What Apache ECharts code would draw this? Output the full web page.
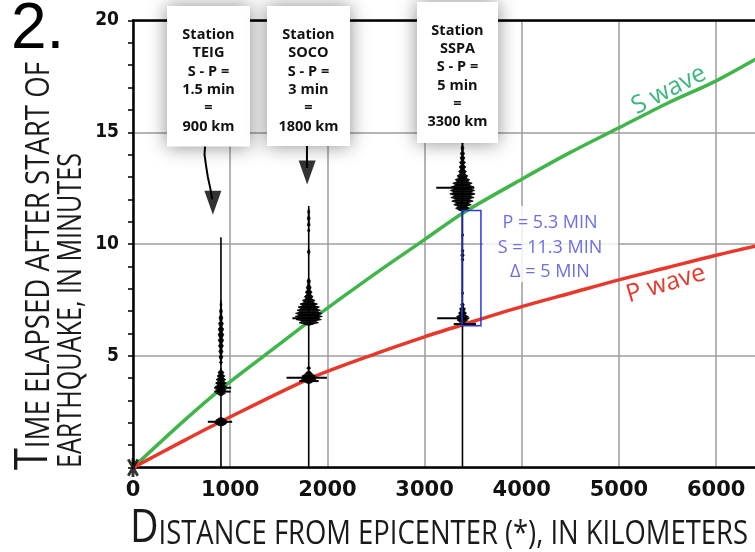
<!DOCTYPE html>
<html><head><meta charset="utf-8">
<script src="https://cdn.jsdelivr.net/npm/echarts@6/dist/echarts.min.js"></script>
<style>html,body{margin:0;padding:0;background:#fff}#c{width:755px;height:552px}</style>
</head><body><div id="c"></div>
<script>
// ---------- data ----------
const xTicks = [0, 1000, 2000, 3000, 4000, 5000, 6000];
const yTicks = [5, 10, 15, 20];
const sWaveKm  = [0, 500, 900, 1500, 1800, 2500, 3000, 3400, 4000, 4500, 5000, 5500, 6000, 6500];
const sWaveMin = [0, 2.0, 3.5, 5.5, 6.5, 8.7, 10.2, 11.4, 12.9, 14.1, 15.2, 16.3, 17.3, 18.5];
const pWaveKm  = [0, 500, 900, 1800, 2500, 3000, 3400, 4000, 4500, 5000, 5500, 6000, 6500];
const pWaveMin = [0, 1.15, 2.05, 3.95, 5.1, 5.85, 6.4, 7.2, 7.8, 8.4, 8.95, 9.5, 10.0];
const stations = ['TEIG', 'SOCO', 'SSPA'];
const stationKm = [905, 1808, 3390];
const traceTopMin = [10.3, 11.7, 14.6];
const spMinutes = ['1.5 min', '3 min', '5 min'];
const spDistance = ['900 km', '1800 km', '3300 km'];
// seismogram envelopes: [minutes, half-width km]
const teigWiggle = [[1.85,0],[1.9,30],[1.95,50],[2.0,60],[2.05,62],[2.1,55],[2.15,45],[2.2,28],[2.25,0],
  [3.2,0],[3.25,20],[3.32,45],[3.4,25],[3.48,55],[3.55,30],[3.62,60],[3.7,35],[3.78,55],[3.86,30],[3.94,50],[4.02,25],[4.1,40],[4.18,20],[4.26,30],[4.35,10],[4.45,0],
  [4.6,0],[4.7,15],[4.8,5],[4.95,20],[5.05,8],[5.2,22],[5.3,10],[5.45,25],[5.55,12],[5.7,28],[5.8,14],[5.95,30],[6.05,15],[6.2,28],[6.3,12],[6.45,25],[6.55,10],[6.7,20],[6.85,8],[7.0,15],[7.15,5],[7.3,10],[7.5,0]];
const socoWiggle = [[3.75,0],[3.8,30],[3.88,55],[3.95,75],[4.03,60],[4.1,70],[4.18,40],[4.26,25],[4.35,0],[4.45,20],[4.55,0],
  [6.35,0],[6.42,50],[6.48,100],[6.55,70],[6.62,130],[6.69,90],[6.76,140],[6.83,100],[6.9,135],[6.97,90],[7.04,120],[7.11,80],[7.18,110],[7.25,60],[7.32,90],[7.4,45],[7.48,65],[7.56,30],[7.65,45],[7.75,20],[7.85,35],[7.95,15],[8.05,25],[8.2,10],[8.35,18],[8.5,0],
  [9.5,0],[9.65,15],[9.8,0],[10.5,0],[10.6,12],[10.75,0],[10.85,15],[11.0,5],[11.15,15],[11.3,5],[11.45,12],[11.6,0]];
const sspaWiggle = [[6.45,0],[6.52,35],[6.6,55],[6.68,40],[6.76,60],[6.84,30],[6.92,40],[7.0,20],[7.1,30],[7.2,10],[7.3,18],[7.4,0],
  [7.7,0],[7.8,12],[7.9,0],[9.2,0],[9.3,15],[9.4,5],[9.5,18],[9.6,5],[9.7,15],[9.8,0],[10.3,0],[10.4,12],[10.5,0],
  [11.45,0],[11.52,40],[11.6,70],[11.68,45],[11.76,90],[11.84,60],[11.92,110],[12.0,70],[12.08,120],[12.16,80],[12.24,130],[12.32,90],[12.4,125],[12.48,85],[12.56,115],[12.64,70],[12.72,100],[12.8,55],[12.88,75],[12.96,40],[13.05,55],[13.15,25],[13.25,40],[13.35,18],[13.45,35],[13.55,15],[13.65,30],[13.75,12],[13.85,25],[13.95,10],[14.05,22],[14.15,8],[14.3,15],[14.45,5],[14.6,10]];
// arrival tick bars
const barMin  = [2.05, 3.57, 3.40, 4.02, 3.87, 6.68, 6.68, 6.42, 12.52];
const barFrom = [770, 836, 836, 1580, 1710, 1640, 3130, 3300, 3120];
const barTo   = [1020, 1010, 1005, 1995, 1910, 1920, 3460, 3530, 3512];
// arrows from labels
const teigArrowKm  = [743, 736, 752, 770, 795, 815];
const teigArrowMin = [14.5, 14.0, 13.5, 13.0, 12.5, 12.0];
const socoArrowKm  = [1790, 1790];
const socoArrowMin = [14.4, 13.4];
const arrowHeadKm  = [822, 1792];
const arrowHeadMin = [11.85, 13.2];
// blue bracket box
const boxKm  = [3385, 3580];
const boxMin = [6.35, 11.5];
const annotation = ['P = 5.3 MIN', 'S = 11.3 MIN', '\u0394 = 5 MIN'];
const originPoint = [[0, 0]];

// ---------- helpers ----------
const mctx = document.createElement('canvas').getContext('2d');
function measure(text, size, family, weight) {
  mctx.font = (weight || 'normal') + ' ' + size + 'px "' + family + '"';
  const m = mctx.measureText(text);
  return { w: m.width, mid: (m.fontBoundingBoxAscent - m.fontBoundingBoxDescent) / 2 };
}
function smallCaps(big, rest, bigSize, smallSize, targetLen, x, y, rotation) {
  const fam = 'Open Sans';
  const b = big ? measure(big, bigSize, fam) : { w: 0, mid: 0 };
  const r = measure(rest, smallSize, fam);
  const s = targetLen / (b.w + r.w);
  const children = [];
  if (big) children.push({ type: 'text', x: 0, y: -b.mid, style: { text: big, fontFamily: fam, fontSize: bigSize, fill: '#1a1a1a', align: 'left', verticalAlign: 'middle' } });
  children.push({ type: 'text', x: b.w, y: -r.mid, style: { text: rest, fontFamily: fam, fontSize: smallSize, fill: '#1a1a1a', align: 'left', verticalAlign: 'middle' } });
  return { type: 'group', x: x, y: y, rotation: rotation, scaleX: s, children: children, z: 50 };
}
function envelope(km, pts) {
  return {
    type: 'custom', coordinateSystem: 'cartesian2d', silent: true, z: 4,
    data: pts.map(p => [km, p[0]]), encode: { x: 0, y: 1 },
    renderItem: function (params, api) {
      const i = params.dataIndex;
      if (i >= pts.length - 1) return null;
      const a = pts[i], b = pts[i + 1];
      if (a[1] === 0 && b[1] === 0) return null;
      const pts4 = [api.coord([km - a[1], a[0]]), api.coord([km + a[1], a[0]]), api.coord([km + b[1], b[0]]), api.coord([km - b[1], b[0]])];
      return { type: 'polygon', shape: { points: pts4 }, style: { fill: '#000', stroke: '#000', lineWidth: 0.5 } };
    }
  };
}

// ---------- chart ----------
const chart = echarts.init(document.getElementById('c'), null, { renderer: 'canvas' });
const series = [];
series.push({ type: 'line', data: sWaveKm.map((k, i) => [k, sWaveMin[i]]), smooth: 0.3, symbol: 'none', z: 3,
  lineStyle: { color: '#3fb54a', width: 3.5 } });
series.push({ type: 'line', data: pWaveKm.map((k, i) => [k, pWaveMin[i]]), smooth: 0.3, symbol: 'none', z: 3,
  lineStyle: { color: '#e8372b', width: 3.5 } });
stations.forEach((s, i) => {
  series.push({ type: 'line', data: [[stationKm[i], 0], [stationKm[i], traceTopMin[i]]], symbol: 'none', z: 4,
    lineStyle: { color: '#000', width: 1.6 } });
});
series.push(envelope(stationKm[0], teigWiggle));
series.push(envelope(stationKm[1], socoWiggle));
series.push(envelope(stationKm[2], sspaWiggle));
series.push({ type: 'custom', coordinateSystem: 'cartesian2d', silent: true, z: 5,
  data: barMin.map((t, i) => [barFrom[i], barTo[i], t]), encode: { x: [0, 1], y: 2 },
  renderItem: function (params, api) {
    const p1 = api.coord([api.value(0), api.value(2)]), p2 = api.coord([api.value(1), api.value(2)]);
    return { type: 'line', shape: { x1: p1[0], y1: p1[1], x2: p2[0], y2: p2[1] }, style: { stroke: '#000', lineWidth: 2 } };
  } });
series.push({ type: 'line', data: teigArrowKm.map((k, i) => [k, teigArrowMin[i]]), symbol: 'none', z: 4,
  lineStyle: { color: '#000', width: 2 } });
series.push({ type: 'line', data: socoArrowKm.map((k, i) => [k, socoArrowMin[i]]), symbol: 'none', z: 4,
  lineStyle: { color: '#000', width: 2 } });
series.push({ type: 'scatter', data: arrowHeadKm.map((k, i) => [k, arrowHeadMin[i]]), symbol: 'triangle', symbolRotate: 180,
  symbolSize: [17, 24], itemStyle: { color: '#000' }, z: 4, silent: true });
series.push({ type: 'custom', coordinateSystem: 'cartesian2d', silent: true, z: 6,
  data: [[boxKm[0], boxMin[0], boxKm[1], boxMin[1]]], encode: { x: [0, 2], y: [1, 3] },
  renderItem: function (params, api) {
    const a = api.coord([api.value(0), api.value(3)]), b = api.coord([api.value(2), api.value(1)]);
    return { type: 'rect', shape: { x: a[0], y: a[1], width: b[0] - a[0], height: b[1] - a[1] }, style: { fill: 'none', stroke: '#2a3ad8', lineWidth: 1.5 } };
  } });
series.push({ type: 'scatter', data: originPoint, z: 7, silent: true, symbolKeepAspect: true, symbolSize: 19,
  symbol: 'path://M-1.2,8L1.2,8L1.2,-8L-1.2,-8ZM2.96,7.53L5.04,6.33L-2.96,-7.53L-5.04,-6.33ZM-5.04,6.33L-2.96,7.53L5.04,-6.33L2.96,-7.53Z',
  itemStyle: { color: '#000' } });

// graphics
const graphics = [];
const t2 = measure('2.', 64, 'Liberation Sans');
graphics.push({ type: 'text', x: 11, y: 52 - t2.mid, z: 50, style: { text: '2.', fontFamily: 'Liberation Sans', fontSize: 64, fill: '#000', align: 'left', verticalAlign: 'middle' } });
graphics.push(smallCaps('D', 'ISTANCE FROM EPICENTER (*), IN KILOMETERS', 46, 32, 618, 130, 547, 0));
graphics.push(smallCaps('T', 'IME ELAPSED AFTER START OF', 46, 32, 408, 52, 470, Math.PI / 2));
graphics.push(smallCaps('', 'EARTHQUAKE, IN MINUTES', 46, 32, 315, 84, 468, Math.PI / 2));
// station label boxes
const boxLeft = [167, 267, 417], boxTop = [6, 6, 2], boxBottom = [146.5, 146, 143], boxWidth = [83, 83, 81], firstLine = [35, 35, 30.7];
stations.forEach((s, i) => {
  graphics.push({ type: 'rect', z: 100, shape: { x: boxLeft[i], y: boxTop[i], width: boxWidth[i], height: boxBottom[i] - boxTop[i] },
    style: { fill: '#fff', shadowBlur: 18, shadowColor: 'rgba(0,0,0,0.45)' } });
  graphics.push({ type: 'text', z: 101, x: boxLeft[i] + boxWidth[i] / 2, y: firstLine[i] - 9.15,
    style: { text: ['Station', s, 'S - P =', spMinutes[i], '=', spDistance[i]].join('\n'), fontFamily: 'Open Sans', fontWeight: 'bold',
      fontSize: 14.5, lineHeight: 18.3, fill: '#111', align: 'center', verticalAlign: 'top' } });
});
// blue annotation
graphics.push({ type: 'rect', z: 1, shape: { x: 483, y: 206, width: 135, height: 76 }, style: { fill: 'rgba(255,255,255,0.82)' } });
const annY = [222.5, 247.5, 272];
annotation.forEach((t, i) => {
  graphics.push({ type: 'text', z: 20, x: 550, y: annY[i], style: { text: t, fontFamily: 'Open Sans', fontSize: 18, fill: '#6d6de6', align: 'center', verticalAlign: 'middle' } });
});
graphics.push({ type: 'text', z: 20, x: 669, y: 90, rotation: 0.47, style: { text: 'S wave', fontFamily: 'Open Sans', fontSize: 25, fill: '#3db77c', align: 'center', verticalAlign: 'middle' } });
graphics.push({ type: 'text', z: 20, x: 666, y: 284, rotation: 0.29, style: { text: 'P wave', fontFamily: 'Open Sans', fontSize: 25, fill: '#e5392e', align: 'center', verticalAlign: 'middle' } });

chart.setOption({
  animation: false,
  backgroundColor: '#fff',
  grid: { left: 133, top: 20.5, right: 0, bottom: 84.4 },
  xAxis: [{
    type: 'value', min: 0, max: 6400, interval: 1000, position: 'bottom',
    axisLine: { show: true, onZero: false, lineStyle: { color: '#000', width: 2.5 } },
    axisTick: { show: false },
    splitLine: { show: true, showMaxLine: false, lineStyle: { color: '#9c9c9c', width: 1.5 } },
    axisLabel: { showMaxLabel: false, formatter: v => xTicks.indexOf(v) >= 0 ? String(v) : '', fontFamily: 'DejaVu Sans', fontWeight: 'bold', fontSize: 21, color: '#111', margin: 12 }
  }, {
    type: 'value', min: 0, max: 6400, position: 'top',
    axisLine: { show: true, onZero: false, lineStyle: { color: '#000', width: 2.5 } },
    axisTick: { show: false }, axisLabel: { show: false }, splitLine: { show: false }
  }],
  yAxis: {
    type: 'value', min: 0, max: 20, interval: 5,
    axisLine: { show: true, onZero: false, lineStyle: { color: '#000', width: 2.5 } },
    axisTick: { show: true, length: 5, lineStyle: { color: '#000', width: 1.5 } },
    minorTick: { show: true, splitNumber: 5, length: 5, lineStyle: { color: '#000', width: 1.5 } },
    splitLine: { show: true, lineStyle: { color: '#9c9c9c', width: 1.5 } },
    axisLabel: { formatter: v => yTicks.indexOf(v) >= 0 ? String(v) : '', fontFamily: 'DejaVu Sans Condensed', fontWeight: 'bold', fontSize: 19, color: '#111', margin: 14 }
  },
  series: series,
  graphic: { elements: graphics }
});
</script></body></html>
